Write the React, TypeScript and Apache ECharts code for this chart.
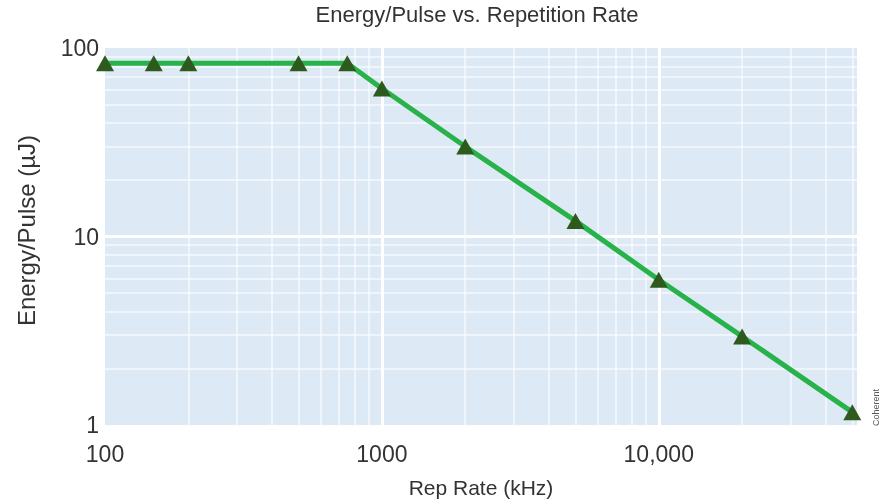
import React, { useEffect, useRef } from 'react';
import * as echarts from 'echarts';

const chartTitle = 'Energy/Pulse vs. Repetition Rate';
const xAxisName = 'Rep Rate (kHz)';
const yAxisName = 'Energy/Pulse (µJ)';
const sourceNote = 'Coherent';

const repRateKHz = [100, 150, 200, 500, 750, 1000, 2000, 5000, 10000, 20000, 50000];
const energyUJ = [83, 83, 83, 83, 83, 61, 30, 12.1, 5.9, 2.95, 1.17];

const majorXGrid = [1000, 10000];
const minorXGrid = [200, 300, 400, 500, 600, 700, 800, 900, 2000, 3000, 4000, 5000, 6000, 7000, 8000, 9000, 20000, 30000, 40000, 50000];
const majorYGrid = [10];
const minorYGrid = [2, 3, 4, 5, 6, 7, 8, 9, 20, 30, 40, 50, 60, 70, 80, 90];

const FONT = '"Liberation Sans", Arial, sans-serif';
const TEXT = '#333333';

const isPow10 = (v: number) => Math.abs(Math.log10(v) - Math.round(Math.log10(v))) < 1e-6;

export default function App() {
  const ref = useRef<HTMLDivElement>(null);
  useEffect(() => {
    const chart = echarts.init(ref.current!, null, { renderer: 'svg' });
    const fmt = (v: number) => {
      if (!isPow10(v)) return '';
      return v >= 10000 ? v.toLocaleString('en-US') : String(v);
    };
    const gridLine = (axis: 'xAxis' | 'yAxis', vals: number[], width: number, color: string) =>
      vals.map((v) => ({ [axis]: v, lineStyle: { width, color, type: 'solid' } }));
    chart.setOption({
      animation: false,
      textStyle: { fontFamily: FONT },
      title: {
        text: chartTitle,
        left: 477,
        top: 3,
        padding: 0,
        textAlign: 'center',
        textStyle: { fontFamily: FONT, fontSize: 22, fontWeight: 'normal', color: TEXT },
      },
      grid: {
        left: 105,
        right: 24,
        top: 48,
        bottom: 78,
        show: true,
        backgroundColor: '#dde9f5',
        borderWidth: 0,
        containLabel: false,
        outerBoundsMode: 'none',
      },
      xAxis: {
        type: 'log',
        logBase: 10,
        min: 100,
        max: 52000,
        name: xAxisName,
        nameLocation: 'middle',
        nameGap: 52,
        nameTextStyle: { fontFamily: FONT, fontSize: 21, color: TEXT },
        axisLine: { show: false },
        axisTick: { show: false },
        splitLine: { show: false },
        axisLabel: { fontFamily: FONT, fontSize: 23, color: TEXT, margin: 17, formatter: fmt, showMaxLabel: false },
      },
      yAxis: {
        type: 'log',
        logBase: 10,
        min: 1,
        max: 100,
        name: yAxisName,
        nameLocation: 'middle',
        nameRotate: 90,
        nameGap: 67,
        nameTextStyle: { fontFamily: FONT, fontSize: 24, color: TEXT, padding: [0, 0, 0, 12] },
        axisLine: { show: false },
        axisTick: { show: false },
        splitLine: { show: false },
        axisLabel: { fontFamily: FONT, fontSize: 23, color: TEXT, margin: 6, formatter: fmt },
      },
      graphic: [
        {
          type: 'text',
          x: 871,
          y: 426,
          rotation: Math.PI / 2,
          style: { text: sourceNote, fontFamily: FONT, fontSize: 9, fill: '#555555' },
        },
      ],
      series: [
        {
          type: 'line',
          data: [],
          z: 1,
          silent: true,
          markLine: {
            z: 1,
            silent: true,
            symbol: 'none',
            label: { show: false },
            animation: false,
            data: [
              ...gridLine('xAxis', minorXGrid, 1.5, 'rgba(255,255,255,0.75)'),
              ...gridLine('yAxis', minorYGrid, 1.5, 'rgba(255,255,255,0.75)'),
              ...gridLine('xAxis', majorXGrid, 3, '#ffffff'),
              ...gridLine('yAxis', majorYGrid, 3, '#ffffff'),
            ],
          },
        },
        {
          type: 'line',
          z: 3,
          data: repRateKHz.map((x, i) => [x, energyUJ[i]]),
          lineStyle: { color: '#27b24a', width: 5 },
          symbol: 'triangle',
          symbolSize: [18, 16],
          itemStyle: { color: '#2e5a1d' },
        },
      ],
    });
    return () => chart.dispose();
  }, []);
  return <div ref={ref} style={{ position: 'fixed', left: 0, top: 0, width: 881, height: 503 }} />;
}
